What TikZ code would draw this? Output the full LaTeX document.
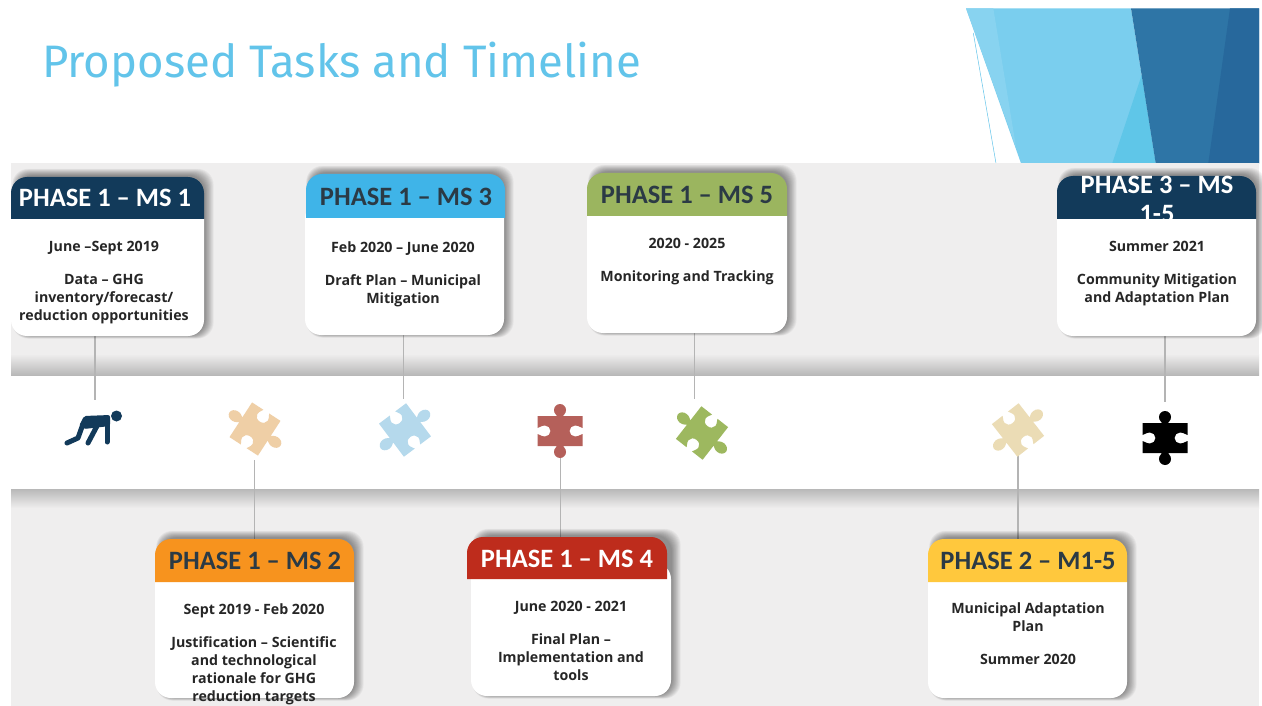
\documentclass[tikz,border=0pt]{standalone}
\usepackage{fontspec}
\setmainfont{Open Sans}
\newfontfamily\headfont{Carlito}
\newfontfamily\titlefont{Fira Sans}
\definecolor{bandgray}{HTML}{EFEEEE}
\definecolor{bandedge}{HTML}{B8B8B8}
\definecolor{titleblue}{HTML}{62C4EA}
\definecolor{navy}{HTML}{123A5A}
\definecolor{skyhead}{HTML}{3FB4E8}
\definecolor{greenhead}{HTML}{9BB55F}
\definecolor{orangehead}{HTML}{F7931E}
\definecolor{redhead}{HTML}{BE2C1C}
\definecolor{yellowhead}{HTML}{FFC83D}
\definecolor{linegray}{HTML}{B4B4B4}
\definecolor{textdark}{HTML}{262626}
\definecolor{headdark}{HTML}{2B3A45}
\definecolor{pieceorange}{HTML}{EFCFA6}
\definecolor{pieceblue}{HTML}{B5D9EC}
\definecolor{piecered}{HTML}{B5605A}
\definecolor{piecegreen}{HTML}{9DB85F}
\definecolor{piecetan}{HTML}{EBDCB5}
\definecolor{bannerlight}{HTML}{7ACEEE}
\definecolor{bannerpale}{HTML}{88D3F0}
\definecolor{bannermid}{HTML}{5FC6E8}
\definecolor{bannerdark}{HTML}{2E75A6}
\definecolor{bannerdeep}{HTML}{27689C}
\tikzset{
  conn/.style={draw=linegray,line width=1.2pt},
  headtext/.style={text=white,font=\headfont\bfseries\fontsize{26.5}{29}\selectfont,align=center,inner sep=0pt},
  darkhead/.style={headtext,text=headdark},
  bodytext/.style={text=textdark,font=\bfseries\fontsize{14.2}{18}\selectfont,align=center,inner sep=0pt},
  runnerline/.style={navy,line width=5pt,line cap=round,line join=round},
}
% name, head x0, head x1, ytop, yhead, ybot, colour, (unused), body shift
\newcommand{\cardshape}[9]{%
  \foreach \k in {1,...,12}{
    \fill[black,opacity=0.04,rounded corners=16pt]
      ({#2+#9+6-\k*0.4},{-(#4)+1+\k*0.6}) rectangle ({#3+#9+\k*0.8},{-(#6)+1-\k*0.3});
  }
  \fill[white,rounded corners=16pt] ({#2+#9},{-(#5)+16}) rectangle ({#3+#9},-#6);
  \path[fill=#7] (#2,-#5) -- (#2,{-(#4)-16}) arc[start angle=180,end angle=90,radius=16]
     -- ({#3-16},-#4) arc[start angle=90,end angle=0,radius=16] -- (#3,-#5) -- cycle;
}
% x, y, rotation, colour, xscale, yscale
\newcommand{\puzzle}[6]{%
  \fill[#4,shift={(#1,-#2)},rotate=#3,xscale=#5,yscale=#6]
    (-22.5,15) -- (-3,15) .. controls (-3,16) and (-6,17) .. (-6,21)
    arc[start angle=180,end angle=0,radius=6]
    .. controls (6,17) and (3,16) .. (3,15) -- (22.5,15) -- (22.5,3)
    .. controls (21,3) and (19,5.5) .. (15,5.5)
    arc[start angle=90,end angle=270,radius=5.5]
    .. controls (19,-5.5) and (21,-3) .. (22.5,-3) -- (22.5,-15) -- (3,-15)
    .. controls (3,-16) and (6,-17) .. (6,-21)
    arc[start angle=0,end angle=-180,radius=6]
    .. controls (-6,-17) and (-3,-16) .. (-3,-15) -- (-22.5,-15) -- (-22.5,-3)
    .. controls (-21,-3) and (-19,-5.5) .. (-15,-5.5)
    arc[start angle=-90,end angle=90,radius=5.5]
    .. controls (-19,5.5) and (-21,3) .. (-22.5,3) -- cycle;
}
\begin{document}
\begin{tikzpicture}[x=1pt,y=1pt]
\useasboundingbox (0,0) rectangle (1262,-706);
\fill[white] (0,0) rectangle (1262,-706);
% banner
\fill[bannerlight] (966,-8.3) -- (1131,-8.3) -- (1155.7,-163.3) -- (1021,-163.3) -- cycle;
\fill[bannerpale] (966,-8.3) -- (993.3,-8.3) -- (1016,-147) -- cycle;
\fill[bannermid] (1141.7,-75) -- (1155.7,-163.3) -- (1112.3,-163.3) -- cycle;
\fill[bannerdark] (1131,-8.3) -- (1259,-8.3) -- (1259,-163.3) -- (1155.7,-163.3) -- cycle;
\fill[bannerdeep] (1230,-8.3) -- (1259,-8.3) -- (1259,-163.3) -- (1208.3,-163.3) -- cycle;
\draw[titleblue,line width=0.5pt] (973.3,-33) -- (996,-163.3);
% title
\node[anchor=base west,inner sep=0pt,text=titleblue,font=\titlefont\fontsize{45.5}{50}\selectfont] (title) at (42,-78) {Proposed Tasks and Timeline};
% bands
\fill[bandgray] (11,-163) rectangle (1259,-376);
\shade[top color=bandgray,bottom color=bandedge] (11,-354) rectangle (1259,-375);
\fill[bandgray] (11,-489) rectangle (1259,-706);
\shade[top color=bandedge,bottom color=bandgray] (11,-489) rectangle (1259,-508);
% connector free ends
\coordinate (runnerend) at (95,-400);
\coordinate (orangeend) at (254.5,-460);
\coordinate (blueend) at (403.5,-399);
\coordinate (redend) at (560.5,-458);
\coordinate (greenend) at (694.5,-399);
\coordinate (tanend) at (1018,-453);
\coordinate (blackend) at (1165,-402);
% connectors
\draw[conn] (95,-336) -- (runnerend);
\draw[conn] (254.5,-539) -- (orangeend);
\draw[conn] (403.5,-335) -- (blueend);
\draw[conn] (560.5,-537) -- (redend);
\draw[conn] (694.5,-333) -- (greenend);
\draw[conn] (1018,-539) -- (tanend);
\draw[conn] (1165,-336) -- (blackend);
% cards
\cardshape{msa}{11}{204}{177}{219}{336}{navy}{}{0}
\cardshape{msc}{306}{505}{174}{218}{335}{skyhead}{}{-1}
\cardshape{mse}{587}{787}{173}{216}{333}{greenhead}{}{0}
\cardshape{pc}{1057}{1256}{176}{219}{336}{navy}{}{0}
\cardshape{msb}{155}{354}{539}{582}{698}{orangehead}{}{0}
\cardshape{msd}{467}{667}{537}{579}{696}{redhead}{}{4}
\cardshape{pb}{928}{1127}{539}{582}{698}{yellowhead}{}{0}
% header texts
\node[headtext] (msahead) at (105,-198) {PHASE 1 – MS 1};
\node[darkhead] (mschead) at (406,-197) {PHASE 1 – MS 3};
\node[darkhead] (msehead) at (687,-195) {PHASE 1 – MS 5};
\begin{scope}
  \clip (1057,-176) rectangle (1256,-219);
  \node[headtext] (pchead) at (1157,-199) {PHASE 3 – MS\\1-5};
\end{scope}
\node[darkhead] (msbhead) at (255,-561) {PHASE 1 – MS 2};
\node[headtext] (msdhead) at (567,-559) {PHASE 1 – MS 4};
\node[darkhead] (pbhead) at (1028,-561) {PHASE 2 – M1-5};
% body text
\node[bodytext] (msat) at (104,-283) {June –Sept 2019\\[15pt]Data – GHG\\inventory/forecast/\\reduction opportunities};
\node[bodytext] (msct) at (403,-274.5) {Feb 2020 – June 2020\\[15pt]Draft Plan – Municipal\\Mitigation};
\node[bodytext] (mset) at (687,-261.5) {2020 - 2025\\[15pt]Monitoring and Tracking};
\node[bodytext] (pct) at (1157,-274) {Summer 2021\\[15pt]Community Mitigation\\and Adaptation Plan};
\node[bodytext] (msbt) at (254,-654) {Sept 2019 - Feb 2020\\[15pt]Justification – Scientific\\and technological\\rationale for GHG\\reduction targets};
\node[bodytext] (msdt) at (571,-640.5) {June 2020 - 2021\\[15pt]Final Plan –\\Implementation and\\tools};
\node[bodytext] (pbt) at (1028,-633.5) {Municipal Adaptation\\Plan\\[15pt]Summer 2020};
% icons
\fill[navy] (116.5,-416) circle (5.5);
\fill[navy,rounded corners=2pt] (79,-426) -- (84,-416) -- (110,-415) -- (110,-426) -- (84,-429) -- cycle;
\draw[runnerline] (107,-420) -- (107,-442);
\draw[runnerline] (83,-424) -- (78,-438) -- (67,-443);
\draw[runnerline] (97,-426) -- (88,-443);
\puzzle{255}{429}{57}{pieceorange}{0.92}{1.13}
\puzzle{405}{430}{-53}{pieceblue}{0.92}{1.13}
\puzzle{560}{431}{0}{piecered}{1}{1}
\puzzle{702}{433}{52}{piecegreen}{0.92}{1.13}
\puzzle{1018}{430}{-52}{piecetan}{0.92}{1.13}
\puzzle{1165}{438}{0}{black}{1}{1}
\end{tikzpicture}
\end{document}
